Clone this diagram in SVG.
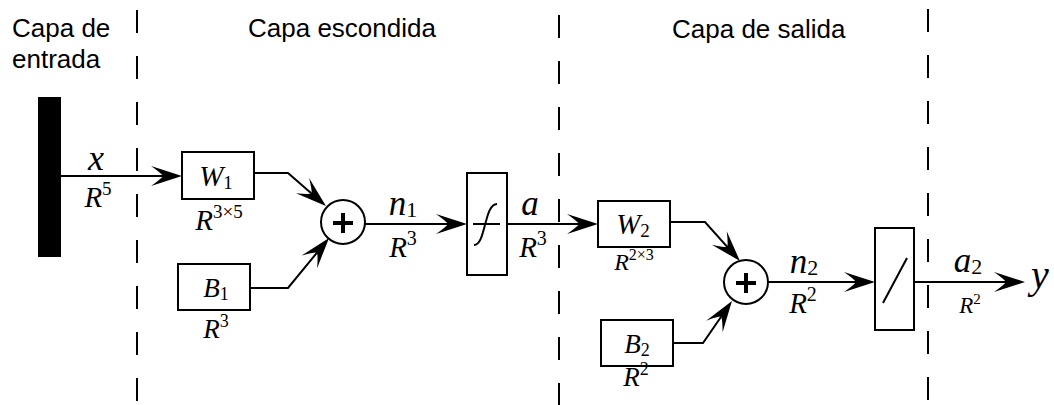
<svg xmlns="http://www.w3.org/2000/svg" width="1054" height="405" viewBox="0 0 1054 405">
<style>
.lbl{font-family:"Liberation Sans",Arial,sans-serif;font-size:26px;fill:#000}
.m{font-family:"Liberation Serif","Times New Roman",serif;font-style:italic;fill:#000}
.d{font-style:normal}
.box{fill:#fff;stroke:#000;stroke-width:2}
.ln{fill:none;stroke:#000;stroke-width:2}
.dash{fill:none;stroke:#000;stroke-width:2;stroke-dasharray:23 23}
</style>
<defs>
<marker id="ah" viewBox="-32 -11 33 22" refX="-10" refY="0" markerWidth="33" markerHeight="22" markerUnits="userSpaceOnUse" orient="auto">
<path d="M0,0 L-31,-10 Q-21,-3 -19,0 Q-21,3 -31,10 Z" fill="#000"/>
</marker>
</defs>
<g id="layers">
<line class="dash" x1="137" y1="10" x2="137" y2="405"/>
<line class="dash" x1="559" y1="15" x2="559" y2="405"/>
<line class="dash" x1="928" y1="9" x2="928" y2="405"/>
<text class="lbl" x="12" y="37">Capa de</text>
<text class="lbl" x="12" y="68">entrada</text>
<text class="lbl" x="248" y="37">Capa escondida</text>
<text class="lbl" x="672" y="38">Capa de salida</text>
</g>
<g id="connectors">
<path class="ln" d="M61,176 H172" marker-end="url(#ah)"/>
<path class="ln" d="M254,173 H288 L318.4,199.4" marker-end="url(#ah)"/>
<path class="ln" d="M250,288 H288 L322.7,245.7" marker-end="url(#ah)"/>
<path class="ln" d="M365,224 H457" marker-end="url(#ah)"/>
<path class="ln" d="M507,224 H588" marker-end="url(#ah)"/>
<path class="ln" d="M670,222 H705 L733.3,253.6" marker-end="url(#ah)"/>
<path class="ln" d="M673,343 H703 L726.3,309.2" marker-end="url(#ah)"/>
<path class="ln" d="M768,282 H865" marker-end="url(#ah)"/>
<path class="ln" d="M914,282 H1015" marker-end="url(#ah)"/>
<text class="m" x="96" y="170" font-size="36" text-anchor="middle">x</text>
<text class="m" x="98" y="207" font-size="29" text-anchor="middle">R<tspan class="d" font-size="19" dy="-12">5</tspan></text>
<text class="m" x="403" y="215" font-size="35" text-anchor="middle">n<tspan class="d" font-size="22" dy="2">1</tspan></text>
<text class="m" x="403" y="257" font-size="29" text-anchor="middle">R<tspan class="d" font-size="20" dy="-12">3</tspan></text>
<text class="m" x="530" y="215" font-size="35" text-anchor="middle">a</text>
<text class="m" x="533" y="257" font-size="29" text-anchor="middle">R<tspan class="d" font-size="20" dy="-12">3</tspan></text>
<text class="m" x="804" y="273" font-size="35" text-anchor="middle">n<tspan class="d" font-size="22" dy="2">2</tspan></text>
<text class="m" x="803" y="313" font-size="29" text-anchor="middle">R<tspan class="d" font-size="20" dy="-12">2</tspan></text>
<text class="m" x="968" y="272" font-size="35" text-anchor="middle">a<tspan class="d" font-size="22" dy="2">2</tspan></text>
<text class="m" x="970" y="313" font-size="23" text-anchor="middle">R<tspan class="d" font-size="15" dy="-9">2</tspan></text>
<text class="m" x="1031" y="288" font-size="40">y</text>
</g>
<g id="input">
<rect x="38" y="97" width="23" height="160" fill="#000"/>
</g>
<g id="W1">
<rect class="box" x="182" y="152" width="72" height="47"/>
<text class="m" x="216" y="186" font-size="29" text-anchor="middle">W<tspan class="d" font-size="19" dy="3">1</tspan></text>
<text class="m" x="219" y="230" font-size="29" text-anchor="middle">R<tspan class="d" font-size="19" dy="-12">3×5</tspan></text>
</g>
<g id="B1">
<rect class="box" x="178" y="264" width="72" height="46"/>
<text class="m" x="216" y="297" font-size="27" text-anchor="middle">B<tspan class="d" font-size="18" dy="3">1</tspan></text>
<text class="m" x="216" y="338" font-size="27" text-anchor="middle">R<tspan class="d" font-size="18" dy="-11">3</tspan></text>
</g>
<g id="sum1">
<circle cx="343" cy="222" r="22" fill="#fff" stroke="#000" stroke-width="2"/>
<path d="M333,223 H353 M343,213 V233" stroke="#000" stroke-width="4" fill="none"/>
</g>
<g id="f">
<rect class="box" x="467" y="173" width="40" height="102"/>
<path class="ln" d="M473,224 H500 M474,245 C486,245 484,204 497,204" stroke-width="1.8"/>
</g>
<g id="W2">
<rect class="box" x="598" y="201" width="72" height="46"/>
<text class="m" x="633" y="234" font-size="29" text-anchor="middle">W<tspan class="d" font-size="19" dy="3">2</tspan></text>
<text class="m" x="634" y="270" font-size="24" text-anchor="middle">R<tspan class="d" font-size="16" dy="-10">2×3</tspan></text>
</g>
<g id="B2">
<rect class="box" x="601" y="320" width="72" height="46"/>
<text class="m" x="637" y="353" font-size="27" text-anchor="middle">B<tspan class="d" font-size="18" dy="3">2</tspan></text>
<text class="m" x="636" y="386" font-size="27" text-anchor="middle">R<tspan class="d" font-size="18" dy="-11">2</tspan></text>
</g>
<g id="sum2">
<circle cx="746" cy="282" r="22" fill="#fff" stroke="#000" stroke-width="2"/>
<path d="M736,283 H756 M746,273 V293" stroke="#000" stroke-width="4" fill="none"/>
</g>
<g id="lin">
<rect class="box" x="875" y="228" width="39" height="102"/>
<path class="ln" d="M883,303 L907,258" stroke-width="1.8"/>
</g>
</svg>
